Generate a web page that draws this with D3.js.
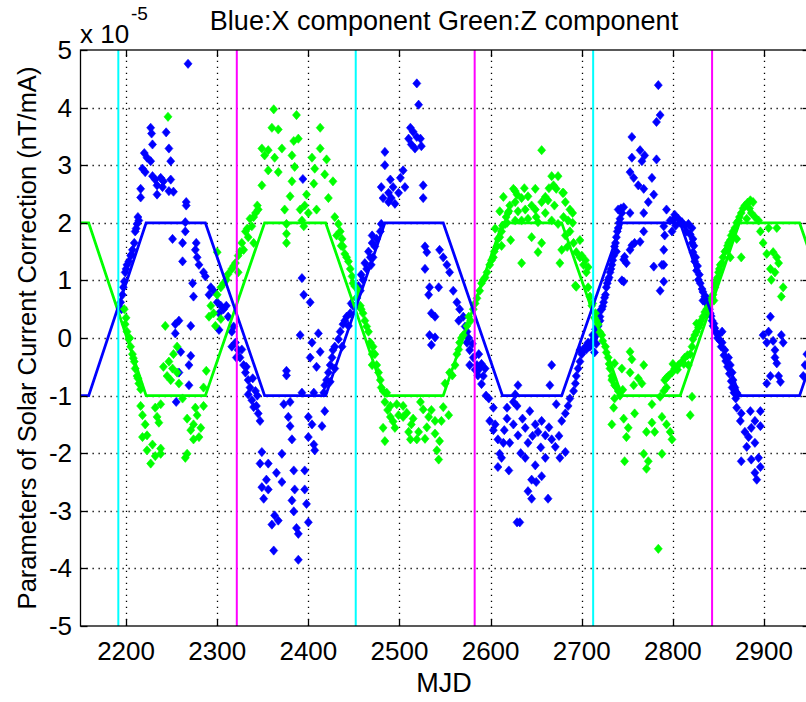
<!DOCTYPE html>
<html>
<head>
<meta charset="utf-8">
<script src="https://cdn.jsdelivr.net/npm/d3@7"></script>
<style>
  body { margin: 0; background: #fff; }
  text { font-family: "Liberation Sans", Arial, Helvetica, sans-serif; fill: #000; }
</style>
</head>
<body>
<div id="chart"></div>
<script>
// Tick values
var xTicks = [2200, 2300, 2400, 2500, 2600, 2700, 2800, 2900];
var yTicks = [-5, -4, -3, -2, -1, 0, 1, 2, 3, 4, 5];

// Vertical marker lines (MJD)
var cyanMJD = [2191.5, 2452, 2712.5];
var magentaMJD = [2321.5, 2582.5, 2843];

// Model curves (x 1e-5)
var modelMJD = [2150, 2159, 2222, 2287, 2352, 2419, 2484, 2548, 2613, 2678, 2744, 2808, 2873, 2939, 2950];
var blueModel = [-1, -1, 2, 2, -1, -1, 2, 2, -1, -1, 2, 2, -1, -1, -0.49];
var greenModel = [2, 2, -1, -1, 2, 2, -1, -1, 2, 2, -1, -1, 2, 2, 1.49];

// Blue: X component observations [MJD, value x 1e-5]
var blueObs = [
  [2268,4.76],[2227,3.65],[2228,3.55],[2244,3.57],[2229,3.36],[2247,3.29],[2220,3.21],[2223,3.13],[2227,3.07],[2249,3.07],[2218,2.94],[2221,2.88],[2229,2.81],[2232,2.75],[2238,2.78],[2241,2.72],[2249,2.75],[2234,2.65],[2240,2.62],[2216,2.59],[2247,2.55],[2252,2.54],[2216,2.44],[2234,2.49],[2266,2.36],[2266,2.30],
  [2214,2.04],[2212,1.98],[2210,1.85],[2209,1.65],[2207,1.53],[2205,1.43],[2203,1.33],[2201,1.27],[2199,1.14],[2198,0.98],[2197,0.88],[2196,0.75],[2194,0.62],
  [2195,0.50],[2200,1.20],[2206,1.45],[2211,1.90],[2213,2.10],
  [2265,2.01],[2265,1.85],[2251,1.72],[2262,1.65],[2277,1.65],[2276,1.53],[2278,1.40],[2262,1.33],[2280,1.27],[2285,1.14],[2287,1.07],[2273,0.95],[2293,0.88],[2291,0.75],[2274,0.72],[2296,0.82],[2300,0.62],[2304,0.56],[2302,0.43],[2307,0.50],
  [2258,0.30],[2254,0.24],[2271,0.21],[2254,0.08],[2260,-0.24],[2271,-0.31],[2269,-0.47],[2258,-0.60],[2269,-0.82],[2255,-1.11],[2302,0.14],
  [2394,2.76],[2310,0.56],[2312,0.37],[2316,0.11],[2320,-0.08],[2323,-0.21],[2325,-0.34],[2329,-0.47],[2331,-0.60],[2334,-0.73],[2336,-0.86],[2334,-0.98],[2338,-1.08],[2342,-0.92],[2343,-1.18],[2345,-1.31],[2347,-1.44],[2316,-0.15],[2321,-0.34],
  [2318,0.20],[2327,-0.20],[2332,-0.50],[2339,-0.70],[2340,-1.20],[2344,-1.00],
  [2393,1.04],[2395,0.75],[2402,0.62],[2391,0.05],[2411,0.08],[2404,-0.08],[2402,-0.34],[2413,-0.24],[2409,-0.50],[2376,-0.57],[2376,-0.65],
  [2373,-1.15],[2380,-1.11],[2393,-0.95],[2406,-0.95],[2378,-1.37],[2400,-1.37],[2418,-1.27],[2380,-1.53],[2404,-1.50],[2415,-1.53],[2382,-1.76],[2400,-1.72],[2406,-1.85],[2407,-1.95],
  [2349,-1.98],[2347,-2.18],[2356,-2.18],[2371,-2.01],[2365,-2.34],[2384,-2.30],[2396,-2.30],[2354,-2.46],[2349,-2.59],[2356,-2.63],[2371,-2.50],[2385,-2.63],[2396,-2.63],[2351,-2.79],[2382,-2.82],[2398,-2.88],[2384,-3.01],[2363,-3.08],[2367,-3.17],[2360,-3.24],[2387,-3.30],[2400,-3.20],[2389,-3.40],[2362,-3.69],[2389,-3.85],
  [2417,-0.95],[2418,-0.82],[2420,-0.73],[2422,-0.60],[2424,-0.47],[2426,-0.34],[2427,-0.21],[2429,-0.15],[2433,-0.02],[2435,0.11],[2438,0.24],[2442,0.37],[2446,0.43],[2449,0.56],[2453,0.69],[2457,0.82],[2460,1.01],[2464,1.20],[2468,1.40],[2470,1.65],[2470,1.78],[2444,0.21],[2437,-0.15],[2424,-0.76],[2429,-0.53],
  [2440,0.30],[2447,0.60],[2452,0.55],[2455,0.90],[2458,1.10],[2462,1.30],[2466,1.50],
  [2519,4.42],[2521,4.05],[2512,3.65],[2515,3.58],[2519,3.49],[2523,3.46],[2510,3.46],[2513,3.36],[2524,3.33],[2517,3.29],
  [2484,3.23],[2484,3.00],[2504,2.91],[2501,2.78],[2490,2.75],[2480,2.62],[2493,2.62],[2506,2.62],[2488,2.52],[2499,2.52],[2482,2.43],[2491,2.43],[2495,2.33],[2488,2.36],[2526,2.65],[2526,2.43],
  [2469,1.27],[2471,1.40],[2473,1.59],[2475,1.72],[2479,1.85],[2480,1.98],
  [2528,1.59],[2530,1.49],[2528,1.20],[2544,1.53],[2548,1.40],[2552,1.27],[2555,1.14],[2533,0.88],[2543,0.88],[2532,0.75],[2559,0.82],[2563,0.62],[2566,0.50],[2570,0.37],[2535,0.43],[2539,0.37],[2533,0.05],[2539,0.01],[2535,-0.12],[2574,0.11],[2574,-0.08],[2577,-0.21],[2581,-0.34],[2585,-0.47],[2588,-0.53],[2592,-0.66],[2594,-0.53],[2587,-0.28],[2577,-0.47],
  [2565,0.30],[2572,0.20],[2576,0.00],[2580,-0.10],[2583,-0.55],[2586,-0.65],[2590,-0.45],
  [2598,-1.05],[2603,-1.21],[2599,-1.44],[2605,-1.50],[2618,-1.21],[2625,-1.11],[2618,-1.40],[2608,-1.76],[2614,-1.82],[2621,-1.82],[2610,-2.01],[2608,-2.24],[2612,-2.08],[2629,-3.20],
  [2615,-1.60],[2625,-1.50],[2635,-1.40],[2646,-1.70],[2655,-1.90],[2664,-1.55],[2675,-1.70],[2620,-2.30],[2633,-2.00],[2650,-2.50],[2603,-1.60],[2595,-1.00],[2590,-0.80],
  [2630,-0.82],[2627,-0.98],[2629,-1.18],[2643,-1.27],[2638,-1.56],[2649,-1.50],[2656,-1.44],[2630,-1.69],[2641,-1.82],[2652,-1.63],[2660,-1.69],[2667,-1.76],[2671,-1.89],[2638,-2.08],[2649,-2.21],[2660,-2.08],[2676,-2.08],[2682,-1.98],[2645,-2.46],[2656,-2.40],[2641,-2.66],[2645,-2.79],[2663,-2.79],[2632,-3.20],[2667,-0.47],[2665,-0.82],[2672,-1.15],[2678,-1.44],
  [2682,-1.31],[2685,-1.18],[2687,-1.05],[2691,-0.92],[2693,-0.79],[2694,-0.66],[2696,-0.53],[2698,-0.41],[2700,-0.28],[2698,-0.21],[2704,-0.15],[2707,-0.08],[2713,-0.02],[2716,0.05],[2718,0.21],[2720,0.37],[2722,0.50],[2724,0.62],[2726,0.75],[2727,0.88],[2729,1.01],[2731,1.14],[2733,1.27],[2735,1.43],[2736,1.59],[2738,1.75],[2740,1.91],[2742,2.07],[2744,2.17],[2746,2.27],[2702,-0.21],[2709,-0.15],
  [2710,-0.10],[2712,0.05],[2714,-0.25],[2716,-0.10],[2705,-0.20],
  [2720,0.30],[2723,0.55],[2725,0.70],[2728,0.95],[2730,1.05],[2732,1.20],[2734,1.35],[2737,1.65],[2739,1.85],[2741,2.00],[2743,2.25],[2738,1.50],[2719,0.45],[2715,0.15],
  [2784,4.39],[2786,3.87],[2782,3.75],[2755,3.49],[2764,3.26],[2769,3.17],[2755,3.13],[2782,3.10],[2766,3.07],[2753,2.88],[2757,2.78],[2777,2.78],[2762,2.65],[2768,2.59],[2779,2.49],[2773,2.36],[2768,2.17],[2753,2.17],[2740,2.23],[2768,1.85],[2758,1.65],[2753,1.53],[2746,1.36],[2749,1.30],[2746,0.98],[2779,1.24],[2788,1.27],[2786,0.82],
  [2747,1.41],[2755,1.61],[2764,1.67],[2744,1.00],
  [2793,2.23],[2802,2.14],[2806,2.07],[2797,2.04],[2810,2.01],[2817,1.98],[2821,1.91],[2790,1.94],[2799,1.85],[2791,1.78],[2790,1.53],[2790,1.27],[2790,0.98],[2822,1.72],
  [2800,2.05],[2808,2.00],[2813,1.95],[2819,1.80],[2815,1.85],[2803,1.95],
  [2821,1.65],[2822,1.49],[2824,1.33],[2826,1.17],[2828,1.01],[2832,0.85],[2835,0.72],[2839,0.56],[2841,0.43],[2843,0.30],[2846,0.17],[2850,0.05],[2854,-0.08],[2857,-0.21],[2861,-0.34],[2863,-0.47],[2865,-0.60],[2866,-0.73],[2868,-0.86],[2865,-0.86],[2870,-0.95],[2844,0.21],[2854,0.11],
  [2823,1.60],[2825,1.40],[2827,1.25],[2829,1.10],[2830,0.95],[2833,0.80],[2836,0.62],[2837,0.70],[2840,0.50],[2842,0.38],[2845,0.25],[2847,0.10],[2849,0.00],[2852,-0.05],[2853,-0.15],[2856,-0.30],[2858,-0.40],[2860,-0.50],[2862,-0.62],[2864,-0.75],[2867,-0.95],[2869,-1.05],[2871,-0.98],[2833,0.65],[2838,0.45],
  [2870,-1.21],[2875,-1.31],[2885,-1.27],[2896,-1.27],[2874,-1.44],[2890,-1.44],[2896,-1.53],[2879,-1.63],[2886,-1.56],[2883,-1.72],[2881,-1.89],[2890,-1.82],[2875,-2.14],[2886,-2.11],[2894,-2.08],[2896,-2.24],[2890,-2.34],[2892,-2.46],
  [2907,0.37],[2905,0.11],[2899,0.05],[2903,-0.08],[2910,-0.05],[2919,0.05],[2921,-0.08],[2912,-0.21],[2912,-0.34],[2914,-0.44],[2907,-0.66],[2916,-0.66],[2918,-0.76],[2903,-0.79],
  [2943,-0.66],[2945,-0.47],[2947,-0.28]
];

// Green: Z component observations [MJD, value x 1e-5]
var greenObs = [
  [2246,3.84],[2198,0.50],[2199,0.24],[2201,0.11],[2203,-0.02],[2205,-0.15],[2207,-0.28],[2209,-0.41],[2210,-0.53],[2212,-0.66],[2214,-0.79],[2216,-0.89],
  [2200,0.35],[2204,0.00],[2208,-0.35],[2213,-0.70],
  [2243,0.21],[2256,-0.15],[2252,-0.28],[2247,-0.41],[2241,-0.50],[2251,-0.53],[2245,-0.66],[2256,-0.60],[2258,-0.79],[2249,-0.73],[2288,-0.57],[2285,-0.86],[2300,1.49],[2304,0.88],[2300,0.75],[2293,0.56],[2296,0.43],[2291,0.37],[2304,0.33],[2298,0.21],[2307,0.95],
  [2216,-1.18],[2218,-1.34],[2232,-1.21],[2238,-1.15],[2221,-1.50],[2234,-1.37],[2223,-1.69],[2236,-1.47],[2218,-1.72],[2229,-1.85],[2238,-1.92],[2223,-1.95],[2232,-2.05],[2227,-2.18],[2238,-2.01],
  [2262,-1.05],[2276,-1.21],[2285,-1.18],[2278,-1.34],[2267,-1.40],[2274,-1.50],[2282,-1.56],[2271,-1.60],[2280,-1.72],[2274,-1.76],[2265,-2.08],[2267,-2.01],
  [2362,3.97],[2387,3.87],[2360,3.65],[2367,3.62],[2413,3.65],[2384,3.42],[2389,3.46],[2349,3.29],[2356,3.26],[2371,3.29],[2413,3.29],[2352,3.17],[2363,3.13],[2382,3.17],[2404,3.13],[2420,3.10],[2356,2.91],[2367,2.88],[2385,2.97],[2407,2.94],[2418,2.84],[2349,2.65],[2382,2.72],[2406,2.68],[2427,2.72],[2380,2.46],[2398,2.49],[2422,2.43],[2374,2.23],[2391,2.23],[2396,2.30],[2400,2.17],[2393,2.04],[2395,1.94],[2376,1.98],[2376,1.81],[2376,1.65],[2409,2.23],
  [2345,2.23],[2342,2.17],[2336,2.07],[2338,1.94],[2331,1.85],[2334,1.75],[2327,1.65],[2329,1.53],[2323,1.43],[2320,1.30],[2316,1.20],[2312,1.11],[2310,1.01],[2340,1.65],[2323,1.14],
  [2318,1.25],[2325,1.50],[2333,1.90],[2340,2.10],[2344,2.30],
  [2429,2.10],[2433,1.98],[2435,1.85],[2437,1.72],[2438,1.59],[2440,1.46],[2444,1.33],[2446,1.20],[2448,1.07],[2449,0.95],[2455,0.82],[2457,0.56],[2460,0.43],[2462,0.30],[2466,0.11],[2468,-0.08],[2470,-0.28],[2470,-0.47],[2431,1.78],
  [2436,1.60],[2442,1.40],[2451,0.90],[2453,0.70],[2458,0.50],[2464,0.20],
  [2471,-0.15],[2473,-0.28],[2475,-0.47],[2477,-0.60],[2479,-0.73],[2480,-0.86],[2482,-0.92],[2486,-0.95],
  [2484,-1.11],[2490,-1.18],[2497,-1.15],[2504,-1.18],[2523,-1.11],[2526,-1.24],[2490,-1.37],[2499,-1.34],[2504,-1.37],[2515,-1.40],[2532,-1.37],[2539,-1.44],[2546,-1.44],[2554,-1.34],[2482,-1.56],[2495,-1.56],[2510,-1.63],[2521,-1.63],[2539,-1.66],[2484,-1.79],[2512,-1.76],[2519,-1.76],[2544,-1.79],[2541,-1.95],[2543,-2.11],
  [2487,-1.25],[2493,-1.45],[2508,-1.30],[2513,-1.50],[2530,-1.55],[2535,-1.25],[2548,-1.20],[2528,-1.75],
  [2550,-0.79],[2555,-0.60],[2561,-0.47],[2563,-0.28],[2566,-0.08],[2570,0.05],[2574,0.21],[2576,0.37],[2581,0.50],[2585,0.69],[2588,0.82],[2592,1.01],[2596,1.14],[2599,1.27],[2603,1.40],[2607,1.59],[2608,1.72],[2612,1.85],[2616,1.98],[2619,2.17],[2621,2.30],[2627,2.36],[2625,2.59],[2629,2.49],
  [2558,-0.65],[2565,-0.20],[2568,0.00],[2578,0.30],[2583,0.60],[2590,0.95],[2594,1.05],[2601,1.35],[2604,1.50],[2610,1.75],[2613,1.95],[2617,2.10],[2620,2.20],
  [2605,1.90],[2610,2.20],[2614,2.45],[2618,2.00],[2622,1.70],[2612,1.60],
  [2656,3.26],[2627,2.55],[2634,2.43],[2641,2.46],[2649,2.59],[2667,2.81],[2674,2.81],[2669,2.65],[2672,2.59],[2680,2.52],[2663,2.39],[2682,2.36],[2656,2.36],[2638,2.23],[2649,2.23],[2660,2.17],[2687,2.23],[2627,2.04],[2634,2.04],[2641,2.07],[2652,2.01],[2667,2.04],[2674,1.98],[2685,2.04],[2645,1.75],[2656,1.65],[2652,1.49],[2678,1.53],[2634,1.30],[2676,1.30],[2682,1.78],
  [2630,2.20],[2645,2.30],[2660,2.45],[2670,2.30],[2680,2.10],[2690,2.00],[2637,2.60],[2664,2.60],[2650,2.10],
  [2679,2.52],[2690,2.17],[2698,1.70],[2704,1.35],[2707,1.23],[2684,1.58],[2694,0.89],
  [2687,1.85],[2691,1.65],[2694,1.49],[2698,1.40],[2702,1.27],[2705,1.14],[2693,0.91],[2707,0.88],[2709,0.72],[2711,0.56],[2715,0.43],[2718,0.24],[2722,0.05],[2726,-0.15],[2729,-0.34],[2731,-0.53],[2733,-0.66],[2736,-0.82],[2740,-0.92],[2700,1.43],
  [2712,0.60],[2714,0.35],[2716,0.30],[2720,0.10],[2723,-0.05],[2727,-0.25],[2730,-0.45],[2734,-0.70],[2738,-0.85],[2742,-1.00],[2745,-0.90],
  [2753,-0.24],[2755,-0.37],[2736,-0.44],[2744,-0.53],[2768,-0.47],[2753,-0.60],[2762,-0.70],[2733,-0.73],[2766,-0.79],[2757,-0.82],[2736,-1.05],[2735,-1.21],[2746,-1.40],[2758,-1.31],[2777,-1.15],[2733,-1.50],[2751,-1.56],[2749,-1.72],[2777,-1.47],[2780,-1.63],[2771,-1.63],[2768,-2.01],[2747,-2.14],[2773,-2.14],[2771,-2.27],[2788,-1.37],[2784,-3.66],
  [2786,-1.02],[2790,-0.92],[2791,-0.73],[2793,-0.86],[2795,-0.66],[2799,-0.60],[2802,-0.53],[2806,-0.47],[2810,-0.41],[2813,-0.34],[2817,-0.47],[2819,-0.28],[2821,-0.15],[2822,-0.02],[2826,0.11],[2830,0.24],[2833,0.37],[2837,0.50],[2841,0.62],[2844,0.75],[2846,0.88],[2848,1.01],[2850,1.14],[2852,1.27],[2855,1.40],[2859,1.53],[2861,1.65],[2864,1.78],[2868,1.91],[2872,2.04],[2875,2.17],[2879,2.30],[2885,2.39],[2888,2.36],[2886,2.17],[2881,2.07],[2894,2.04],[2819,-1.34],[2797,-1.63],[2799,-1.76],[2793,-1.50],[2788,-2.01],[2793,-0.69],[2821,-1.02],[2863,1.40],[2875,1.40],[2870,1.72],
  [2800,-0.45],[2805,-0.55],[2812,-0.45],[2816,-0.30],[2824,0.05],[2828,0.18],[2831,0.30],[2835,0.45],[2839,0.55],[2843,0.70],[2847,0.95],[2849,1.05],[2851,1.20],[2854,1.30],[2857,1.50],[2860,1.60],[2863,1.70],[2866,1.85],[2870,2.00],[2873,2.10],[2877,2.25],[2882,2.35],[2884,2.25],[2890,2.10],[2826,0.25],[2845,0.65],
  [2896,1.85],[2899,1.65],[2903,1.46],[2905,1.91],[2914,1.91],[2910,1.49],[2914,1.40],[2907,1.20],[2908,1.01],[2921,0.88],[2919,0.72],[2916,1.30],[2912,1.14]
];

// Layout
var width = 806;
var height = 702;
var plotLeft = 80.5;
var plotRight = 809.6;
var plotTop = 50;
var plotBottom = 626;
var blue = '#0000ff';
var green = '#00ff00';

var svg = d3.select('#chart')
            .append('svg')
            .attr('width', width)
            .attr('height', height);

var x = d3.scaleLinear().domain([2150, 2950]).range([plotLeft, plotRight]);
var y = d3.scaleLinear().domain([-5, 5]).range([plotBottom, plotTop]);

// Clip to the plot box
svg.append('clipPath')
   .attr('id', 'plot-clip')
   .append('rect')
   .attr('x', plotLeft)
   .attr('y', plotTop)
   .attr('width', plotRight - plotLeft)
   .attr('height', plotBottom - plotTop);

// Dotted grid
var grid = svg.append('g').attr('class', 'grid')
              .attr('stroke', '#000')
              .attr('stroke-width', 1.3)
              .attr('stroke-dasharray', '1.3,4.7');
grid.selectAll('.gx')
    .data(xTicks)
    .enter()
    .append('line')
    .attr('x1', function (d) { return Math.round(x(d)) + 0.5; })
    .attr('x2', function (d) { return Math.round(x(d)) + 0.5; })
    .attr('y1', plotBottom)
    .attr('y2', plotTop);
grid.selectAll('.gy')
    .data(yTicks.slice(1, -1))
    .enter()
    .append('line')
    .attr('y1', function (d) { return Math.round(y(d)) + 0.5; })
    .attr('y2', function (d) { return Math.round(y(d)) + 0.5; })
    .attr('x1', plotLeft)
    .attr('x2', plotRight);

var plot = svg.append('g').attr('clip-path', 'url(#plot-clip)');

// Diamond markers
var diamond = 'M0,-4.6L4,0L0,4.6L-4,0Z';
function drawPoints(data, color) {
  plot.append('g')
      .selectAll('path')
      .data(data)
      .enter()
      .append('path')
      .attr('d', diamond)
      .attr('transform', function (d) {
        return 'translate(' + x(d[0]) + ',' + y(d[1]) + ')';
      })
      .attr('fill', color)
      .attr('stroke', color)
      .attr('stroke-width', 0.6);
}
drawPoints(blueObs, blue);
drawPoints(greenObs, green);

// Model lines
var line = d3.line()
             .x(function (d) { return x(d[0]); })
             .y(function (d) { return y(d[1]); });
plot.append('path')
    .datum(modelMJD.map(function (d, i) { return [d, greenModel[i]]; }))
    .attr('d', line)
    .attr('fill', 'none')
    .attr('stroke', green)
    .attr('stroke-width', 2.8);
plot.append('path')
    .datum(modelMJD.map(function (d, i) { return [d, blueModel[i]]; }))
    .attr('d', line)
    .attr('fill', 'none')
    .attr('stroke', blue)
    .attr('stroke-width', 2.8);

// Vertical marker lines
function drawVLines(data, color) {
  plot.append('g')
      .selectAll('line')
      .data(data)
      .enter()
      .append('line')
      .attr('x1', function (d) { return x(d); })
      .attr('x2', function (d) { return x(d); })
      .attr('y1', plotTop)
      .attr('y2', plotBottom)
      .attr('stroke', color)
      .attr('stroke-width', 2);
}
drawVLines(cyanMJD, '#00ffff');
drawVLines(magentaMJD, '#ff00ff');

// Box and inward ticks
var axes = svg.append('g').attr('stroke', '#000').attr('stroke-width', 1.3);
axes.append('rect')
    .attr('x', plotLeft)
    .attr('y', plotTop)
    .attr('width', plotRight - plotLeft)
    .attr('height', plotBottom - plotTop)
    .attr('fill', 'none');
var tickLen = 7;
xTicks.forEach(function (t) {
  var px = Math.round(x(t)) + 0.5;
  axes.append('line').attr('x1', px).attr('x2', px).attr('y1', plotBottom).attr('y2', plotBottom - tickLen);
  axes.append('line').attr('x1', px).attr('x2', px).attr('y1', plotTop).attr('y2', plotTop + tickLen);
});
yTicks.forEach(function (t) {
  var py = Math.round(y(t)) + 0.5;
  axes.append('line').attr('y1', py).attr('y2', py).attr('x1', plotLeft).attr('x2', plotLeft + tickLen);
  axes.append('line').attr('y1', py).attr('y2', py).attr('x1', plotRight).attr('x2', plotRight - tickLen);
});

// Tick labels
svg.append('g')
   .selectAll('text')
   .data(xTicks)
   .enter()
   .append('text')
   .attr('x', function (d) { return x(d); })
   .attr('y', 660)
   .attr('text-anchor', 'middle')
   .attr('font-size', 26)
   .text(function (d) { return d; });
svg.append('g')
   .selectAll('text')
   .data(yTicks)
   .enter()
   .append('text')
   .attr('x', 72)
   .attr('y', function (d) { return y(d) + 9; })
   .attr('text-anchor', 'end')
   .attr('font-size', 26)
   .text(function (d) { return d; });

// Exponent label
svg.append('text')
   .attr('x', 80)
   .attr('y', 43)
   .attr('font-size', 26)
   .text('x 10');
svg.append('text')
   .attr('x', 131)
   .attr('y', 20)
   .attr('font-size', 19)
   .text('-5');

// Title and axis labels
svg.append('text')
   .attr('x', 444)
   .attr('y', 30)
   .attr('text-anchor', 'middle')
   .attr('font-size', 27)
   .text('Blue:X component Green:Z component');
svg.append('text')
   .attr('x', 444)
   .attr('y', 692)
   .attr('text-anchor', 'middle')
   .attr('font-size', 27)
   .text('MJD');
svg.append('text')
   .attr('transform', 'translate(36,' + ((plotTop + plotBottom) / 2) + ') rotate(-90)')
   .attr('text-anchor', 'middle')
   .attr('font-size', 25.5)
   .text('Parameters of Solar Current Correction (nT/mA)');
</script>
</body>
</html>
